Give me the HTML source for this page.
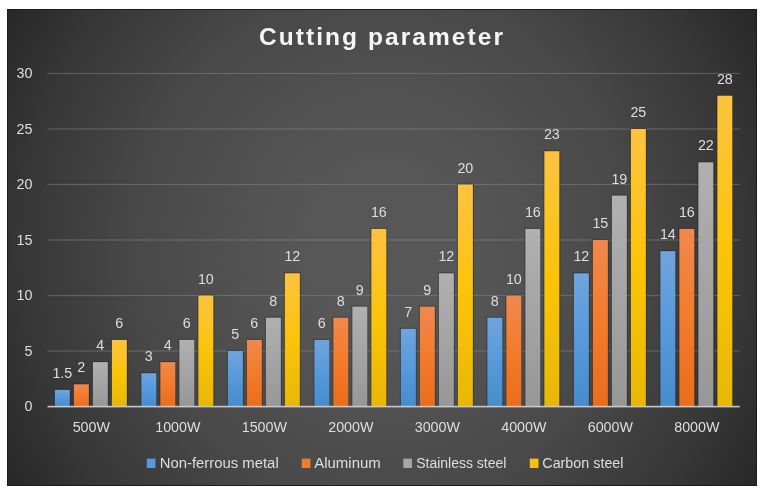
<!DOCTYPE html>
<html><head><meta charset="utf-8"><title>Cutting parameter</title>
<style>
html,body{margin:0;padding:0;background:#fff;}
body{width:769px;height:492px;overflow:hidden;position:relative;font-family:"Liberation Sans",sans-serif;}
#chart{position:absolute;left:7px;top:9px;width:750px;height:477px;box-sizing:border-box;border:1px solid #1c1c1c;
background:radial-gradient(ellipse 437px 463px at 375px 238px, #575757 0%, #575757 17%, #525252 32%, #4e4e4e 42%, #4b4b4b 49%, #484848 57%, #3d3d3d 73%, #363636 83.5%, #2a2a2a 97%, #282828 100%);}
svg{position:absolute;left:0;top:0;filter:blur(0.35px);}
text{font-family:"Liberation Sans",sans-serif;fill:#dedede;}
.t{font-size:14.3px;}
.l{font-size:14.7px;}
.title{font-size:24.5px;font-weight:bold;fill:#f5f5f5;letter-spacing:2.06px;}
</style></head><body>
<div id="chart"></div>
<svg width="769" height="492" viewBox="0 0 769 492">
<defs>
<linearGradient id="b" x1="0" y1="0" x2="0" y2="1"><stop offset="0" stop-color="#70a4dc"/><stop offset="0.5" stop-color="#5799dc"/><stop offset="1" stop-color="#468ccc"/></linearGradient>
<linearGradient id="o" x1="0" y1="0" x2="0" y2="1"><stop offset="0" stop-color="#f0884e"/><stop offset="0.5" stop-color="#f37b2c"/><stop offset="1" stop-color="#e96d1c"/></linearGradient>
<linearGradient id="g" x1="0" y1="0" x2="0" y2="1"><stop offset="0" stop-color="#b0b0b0"/><stop offset="0.5" stop-color="#a4a4a4"/><stop offset="1" stop-color="#979797"/></linearGradient>
<linearGradient id="y" x1="0" y1="0" x2="0" y2="1"><stop offset="0" stop-color="#fdc340"/><stop offset="0.5" stop-color="#fbc408"/><stop offset="1" stop-color="#e8b706"/></linearGradient>
</defs>

<rect x="47.5" y="350.40" width="692.5" height="1.2" fill="#909090" fill-opacity="0.42"/>
<rect x="47.5" y="294.90" width="692.5" height="1.2" fill="#909090" fill-opacity="0.42"/>
<rect x="47.5" y="239.40" width="692.5" height="1.2" fill="#909090" fill-opacity="0.42"/>
<rect x="47.5" y="183.90" width="692.5" height="1.2" fill="#909090" fill-opacity="0.42"/>
<rect x="47.5" y="128.40" width="692.5" height="1.2" fill="#909090" fill-opacity="0.42"/>
<rect x="47.5" y="72.90" width="692.5" height="1.2" fill="#909090" fill-opacity="0.42"/>
<text class="t" x="32.5" y="411.00" text-anchor="end">0</text>
<text class="t" x="32.5" y="355.50" text-anchor="end">5</text>
<text class="t" x="32.5" y="300.00" text-anchor="end">10</text>
<text class="t" x="32.5" y="244.50" text-anchor="end">15</text>
<text class="t" x="32.5" y="189.00" text-anchor="end">20</text>
<text class="t" x="32.5" y="133.50" text-anchor="end">25</text>
<text class="t" x="32.5" y="78.00" text-anchor="end">30</text>
<rect x="53.85" y="388.85" width="17" height="17.65" fill="#1e1e1e" fill-opacity="0.4"/>
<rect x="54.85" y="389.85" width="15" height="16.65" fill="url(#b)"/>
<text class="t" x="62.35" y="377.85" text-anchor="middle">1.5</text>
<rect x="72.85" y="383.30" width="17" height="23.20" fill="#1e1e1e" fill-opacity="0.4"/>
<rect x="73.85" y="384.30" width="15" height="22.20" fill="url(#o)"/>
<text class="t" x="81.35" y="372.30" text-anchor="middle">2</text>
<rect x="91.85" y="361.10" width="17" height="45.40" fill="#1e1e1e" fill-opacity="0.4"/>
<rect x="92.85" y="362.10" width="15" height="44.40" fill="url(#g)"/>
<text class="t" x="100.35" y="350.10" text-anchor="middle">4</text>
<rect x="110.85" y="338.90" width="17" height="67.60" fill="#1e1e1e" fill-opacity="0.4"/>
<rect x="111.85" y="339.90" width="15" height="66.60" fill="url(#y)"/>
<text class="t" x="119.35" y="327.90" text-anchor="middle">6</text>
<text class="t" x="91.35" y="432" text-anchor="middle">500W</text>
<rect x="140.35" y="372.20" width="17" height="34.30" fill="#1e1e1e" fill-opacity="0.4"/>
<rect x="141.35" y="373.20" width="15" height="33.30" fill="url(#b)"/>
<text class="t" x="148.85" y="361.20" text-anchor="middle">3</text>
<rect x="159.35" y="361.10" width="17" height="45.40" fill="#1e1e1e" fill-opacity="0.4"/>
<rect x="160.35" y="362.10" width="15" height="44.40" fill="url(#o)"/>
<text class="t" x="167.85" y="350.10" text-anchor="middle">4</text>
<rect x="178.35" y="338.90" width="17" height="67.60" fill="#1e1e1e" fill-opacity="0.4"/>
<rect x="179.35" y="339.90" width="15" height="66.60" fill="url(#g)"/>
<text class="t" x="186.85" y="327.90" text-anchor="middle">6</text>
<rect x="197.35" y="294.50" width="17" height="112.00" fill="#1e1e1e" fill-opacity="0.4"/>
<rect x="198.35" y="295.50" width="15" height="111.00" fill="url(#y)"/>
<text class="t" x="205.85" y="283.50" text-anchor="middle">10</text>
<text class="t" x="177.85" y="432" text-anchor="middle">1000W</text>
<rect x="226.85" y="350.00" width="17" height="56.50" fill="#1e1e1e" fill-opacity="0.4"/>
<rect x="227.85" y="351.00" width="15" height="55.50" fill="url(#b)"/>
<text class="t" x="235.35" y="339.00" text-anchor="middle">5</text>
<rect x="245.85" y="338.90" width="17" height="67.60" fill="#1e1e1e" fill-opacity="0.4"/>
<rect x="246.85" y="339.90" width="15" height="66.60" fill="url(#o)"/>
<text class="t" x="254.35" y="327.90" text-anchor="middle">6</text>
<rect x="264.85" y="316.70" width="17" height="89.80" fill="#1e1e1e" fill-opacity="0.4"/>
<rect x="265.85" y="317.70" width="15" height="88.80" fill="url(#g)"/>
<text class="t" x="273.35" y="305.70" text-anchor="middle">8</text>
<rect x="283.85" y="272.30" width="17" height="134.20" fill="#1e1e1e" fill-opacity="0.4"/>
<rect x="284.85" y="273.30" width="15" height="133.20" fill="url(#y)"/>
<text class="t" x="292.35" y="261.30" text-anchor="middle">12</text>
<text class="t" x="264.35" y="432" text-anchor="middle">1500W</text>
<rect x="313.35" y="338.90" width="17" height="67.60" fill="#1e1e1e" fill-opacity="0.4"/>
<rect x="314.35" y="339.90" width="15" height="66.60" fill="url(#b)"/>
<text class="t" x="321.85" y="327.90" text-anchor="middle">6</text>
<rect x="332.35" y="316.70" width="17" height="89.80" fill="#1e1e1e" fill-opacity="0.4"/>
<rect x="333.35" y="317.70" width="15" height="88.80" fill="url(#o)"/>
<text class="t" x="340.85" y="305.70" text-anchor="middle">8</text>
<rect x="351.35" y="305.60" width="17" height="100.90" fill="#1e1e1e" fill-opacity="0.4"/>
<rect x="352.35" y="306.60" width="15" height="99.90" fill="url(#g)"/>
<text class="t" x="359.85" y="294.60" text-anchor="middle">9</text>
<rect x="370.35" y="227.90" width="17" height="178.60" fill="#1e1e1e" fill-opacity="0.4"/>
<rect x="371.35" y="228.90" width="15" height="177.60" fill="url(#y)"/>
<text class="t" x="378.85" y="216.90" text-anchor="middle">16</text>
<text class="t" x="350.85" y="432" text-anchor="middle">2000W</text>
<rect x="399.85" y="327.80" width="17" height="78.70" fill="#1e1e1e" fill-opacity="0.4"/>
<rect x="400.85" y="328.80" width="15" height="77.70" fill="url(#b)"/>
<text class="t" x="408.35" y="316.80" text-anchor="middle">7</text>
<rect x="418.85" y="305.60" width="17" height="100.90" fill="#1e1e1e" fill-opacity="0.4"/>
<rect x="419.85" y="306.60" width="15" height="99.90" fill="url(#o)"/>
<text class="t" x="427.35" y="294.60" text-anchor="middle">9</text>
<rect x="437.85" y="272.30" width="17" height="134.20" fill="#1e1e1e" fill-opacity="0.4"/>
<rect x="438.85" y="273.30" width="15" height="133.20" fill="url(#g)"/>
<text class="t" x="446.35" y="261.30" text-anchor="middle">12</text>
<rect x="456.85" y="183.50" width="17" height="223.00" fill="#1e1e1e" fill-opacity="0.4"/>
<rect x="457.85" y="184.50" width="15" height="222.00" fill="url(#y)"/>
<text class="t" x="465.35" y="172.50" text-anchor="middle">20</text>
<text class="t" x="437.35" y="432" text-anchor="middle">3000W</text>
<rect x="486.35" y="316.70" width="17" height="89.80" fill="#1e1e1e" fill-opacity="0.4"/>
<rect x="487.35" y="317.70" width="15" height="88.80" fill="url(#b)"/>
<text class="t" x="494.85" y="305.70" text-anchor="middle">8</text>
<rect x="505.35" y="294.50" width="17" height="112.00" fill="#1e1e1e" fill-opacity="0.4"/>
<rect x="506.35" y="295.50" width="15" height="111.00" fill="url(#o)"/>
<text class="t" x="513.85" y="283.50" text-anchor="middle">10</text>
<rect x="524.35" y="227.90" width="17" height="178.60" fill="#1e1e1e" fill-opacity="0.4"/>
<rect x="525.35" y="228.90" width="15" height="177.60" fill="url(#g)"/>
<text class="t" x="532.85" y="216.90" text-anchor="middle">16</text>
<rect x="543.35" y="150.20" width="17" height="256.30" fill="#1e1e1e" fill-opacity="0.4"/>
<rect x="544.35" y="151.20" width="15" height="255.30" fill="url(#y)"/>
<text class="t" x="551.85" y="139.20" text-anchor="middle">23</text>
<text class="t" x="523.85" y="432" text-anchor="middle">4000W</text>
<rect x="572.85" y="272.30" width="17" height="134.20" fill="#1e1e1e" fill-opacity="0.4"/>
<rect x="573.85" y="273.30" width="15" height="133.20" fill="url(#b)"/>
<text class="t" x="581.35" y="261.30" text-anchor="middle">12</text>
<rect x="591.85" y="239.00" width="17" height="167.50" fill="#1e1e1e" fill-opacity="0.4"/>
<rect x="592.85" y="240.00" width="15" height="166.50" fill="url(#o)"/>
<text class="t" x="600.35" y="228.00" text-anchor="middle">15</text>
<rect x="610.85" y="194.60" width="17" height="211.90" fill="#1e1e1e" fill-opacity="0.4"/>
<rect x="611.85" y="195.60" width="15" height="210.90" fill="url(#g)"/>
<text class="t" x="619.35" y="183.60" text-anchor="middle">19</text>
<rect x="629.85" y="128.00" width="17" height="278.50" fill="#1e1e1e" fill-opacity="0.4"/>
<rect x="630.85" y="129.00" width="15" height="277.50" fill="url(#y)"/>
<text class="t" x="638.35" y="117.00" text-anchor="middle">25</text>
<text class="t" x="610.35" y="432" text-anchor="middle">6000W</text>
<rect x="659.35" y="250.10" width="17" height="156.40" fill="#1e1e1e" fill-opacity="0.4"/>
<rect x="660.35" y="251.10" width="15" height="155.40" fill="url(#b)"/>
<text class="t" x="667.85" y="239.10" text-anchor="middle">14</text>
<rect x="678.35" y="227.90" width="17" height="178.60" fill="#1e1e1e" fill-opacity="0.4"/>
<rect x="679.35" y="228.90" width="15" height="177.60" fill="url(#o)"/>
<text class="t" x="686.85" y="216.90" text-anchor="middle">16</text>
<rect x="697.35" y="161.30" width="17" height="245.20" fill="#1e1e1e" fill-opacity="0.4"/>
<rect x="698.35" y="162.30" width="15" height="244.20" fill="url(#g)"/>
<text class="t" x="705.85" y="150.30" text-anchor="middle">22</text>
<rect x="716.35" y="94.70" width="17" height="311.80" fill="#1e1e1e" fill-opacity="0.4"/>
<rect x="717.35" y="95.70" width="15" height="310.80" fill="url(#y)"/>
<text class="t" x="724.85" y="83.70" text-anchor="middle">28</text>
<text class="t" x="696.85" y="432" text-anchor="middle">8000W</text>
<rect x="47.5" y="405.80" width="692.3" height="1.6" fill="#c8c8c8"/>
<text class="title" x="382" y="44.6" text-anchor="middle">Cutting parameter</text>
<rect x="146.8" y="458.6" width="8.7" height="9.4" fill="#5a9adc"/>
<text class="l" x="159.7" y="468.2" textLength="119" lengthAdjust="spacingAndGlyphs">Non-ferrous metal</text>
<rect x="301.7" y="458.6" width="8.7" height="9.4" fill="#ee7d30"/>
<text class="l" x="314.2" y="468.2" textLength="66.6" lengthAdjust="spacingAndGlyphs">Aluminum</text>
<rect x="403.3" y="458.6" width="8.7" height="9.4" fill="#a6a6a6"/>
<text class="l" x="416.2" y="468.2" textLength="90.2" lengthAdjust="spacingAndGlyphs">Stainless steel</text>
<rect x="529.8" y="458.6" width="8.7" height="9.4" fill="#f8c010"/>
<text class="l" x="542.3" y="468.2" textLength="81.2" lengthAdjust="spacingAndGlyphs">Carbon steel</text>
</svg></body></html>
